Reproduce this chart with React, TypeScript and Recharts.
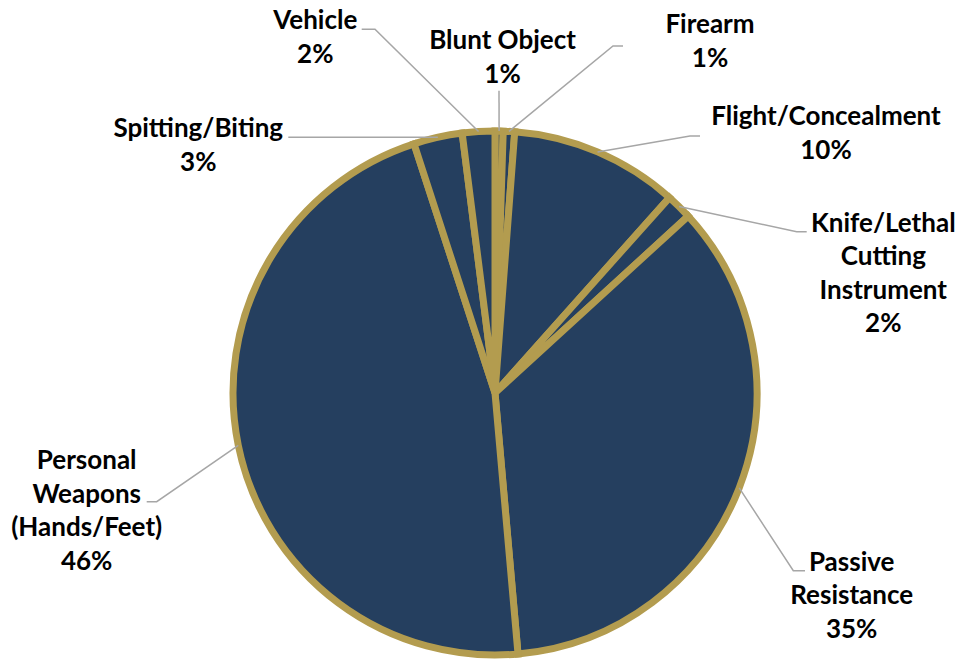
import React from 'react';
import { PieChart, Pie, Cell } from 'recharts';

const categories = [
  'Blunt Object',
  'Firearm',
  'Flight/Concealment',
  'Knife/Lethal Cutting Instrument',
  'Passive Resistance',
  'Personal Weapons (Hands/Feet)',
  'Spitting/Biting',
  'Vehicle',
];
const shares = [0.5, 0.7, 10.4, 1.6, 35.4, 46.4, 3.0, 2.0];
const labelLines = [
  ['Blunt Object'],
  ['Firearm'],
  ['Flight/Concealment'],
  ['Knife/Lethal', 'Cutting', 'Instrument'],
  ['Passive', 'Resistance'],
  ['Personal', 'Weapons', '(Hands/Feet)'],
  ['Spitting/Biting'],
  ['Vehicle'],
];

// label layout: text centre x, first baseline y, leader points (from label toward slice)
const labelLayout: { tx: number; ty: number; pts: number[][] }[] = [
  { tx: 502.5, ty: 49.3, pts: [[499, 90.7]] },
  { tx: 710, ty: 33.3, pts: [[623, 46], [613, 46]] },
  { tx: 826, ty: 125, pts: [[700, 136], [690, 136]] },
  { tx: 883.3, ty: 231.5, pts: [[806.7, 231.7], [796.7, 231.7]] },
  { tx: 851.7, ty: 570.7, pts: [[805, 570.7], [793.3, 570.7]] },
  { tx: 86.7, ty: 469.3, pts: [[146.7, 501.7], [156.7, 501.7]] },
  { tx: 198.3, ty: 137.3, pts: [[288.3, 137.3]] },
  { tx: 315.3, ty: 29.3, pts: [[361.7, 29.3], [375, 29.3]] },
];

const data = categories.map((name, i) => ({ name, value: shares[i] }));

const NAVY = '#253F5F';
const GOLD = '#B39C4F';
const LINE_GAP = 33.5;
const RAD = Math.PI / 180;

const renderLabel = (props: any) => {
  const { cx, cy, midAngle, outerRadius, index, value } = props;
  const lay = labelLayout[index];
  const ex = cx + outerRadius * Math.cos(-midAngle * RAD);
  const ey = cy + outerRadius * Math.sin(-midAngle * RAD);
  const pts = [...lay.pts, [ex, ey]];
  const d = pts.map((p, i) => `${i === 0 ? 'M' : 'L'}${p[0]},${p[1]}`).join(' ');
  const lines = [...labelLines[index], `${Math.round(value)}%`];
  return (
    <g key={`lbl-${index}`}>
      <path d={d} stroke="#A6A6A6" strokeWidth={1.5} fill="none" />
      {lines.map((t, j) => (
        <text
          key={j}
          x={lay.tx}
          y={lay.ty + j * LINE_GAP}
          textAnchor="middle"
          fontFamily="Lato, 'Open Sans', sans-serif"
          fontWeight={700}
          fontSize={26}
          fill="#000"
        >
          {t}
        </text>
      ))}
    </g>
  );
};

export default function App() {
  return (
    <div style={{ position: 'absolute', left: 0, top: 0, width: 959, height: 661, background: '#fff' }}>
      <PieChart width={959} height={661} margin={{ top: 0, right: 0, bottom: 0, left: 0 }}>
        <Pie
          data={data}
          dataKey="value"
          nameKey="name"
          cx={495}
          cy={393}
          outerRadius={262}
          startAngle={90}
          endAngle={-270}
          stroke={GOLD}
          strokeWidth={7}
          label={renderLabel}
          labelLine={false}
          isAnimationActive={false}
        >
          {data.map((d, i) => (
            <Cell key={i} fill={NAVY} stroke={GOLD} strokeWidth={7} />
          ))}
        </Pie>
      </PieChart>
    </div>
  );
}
